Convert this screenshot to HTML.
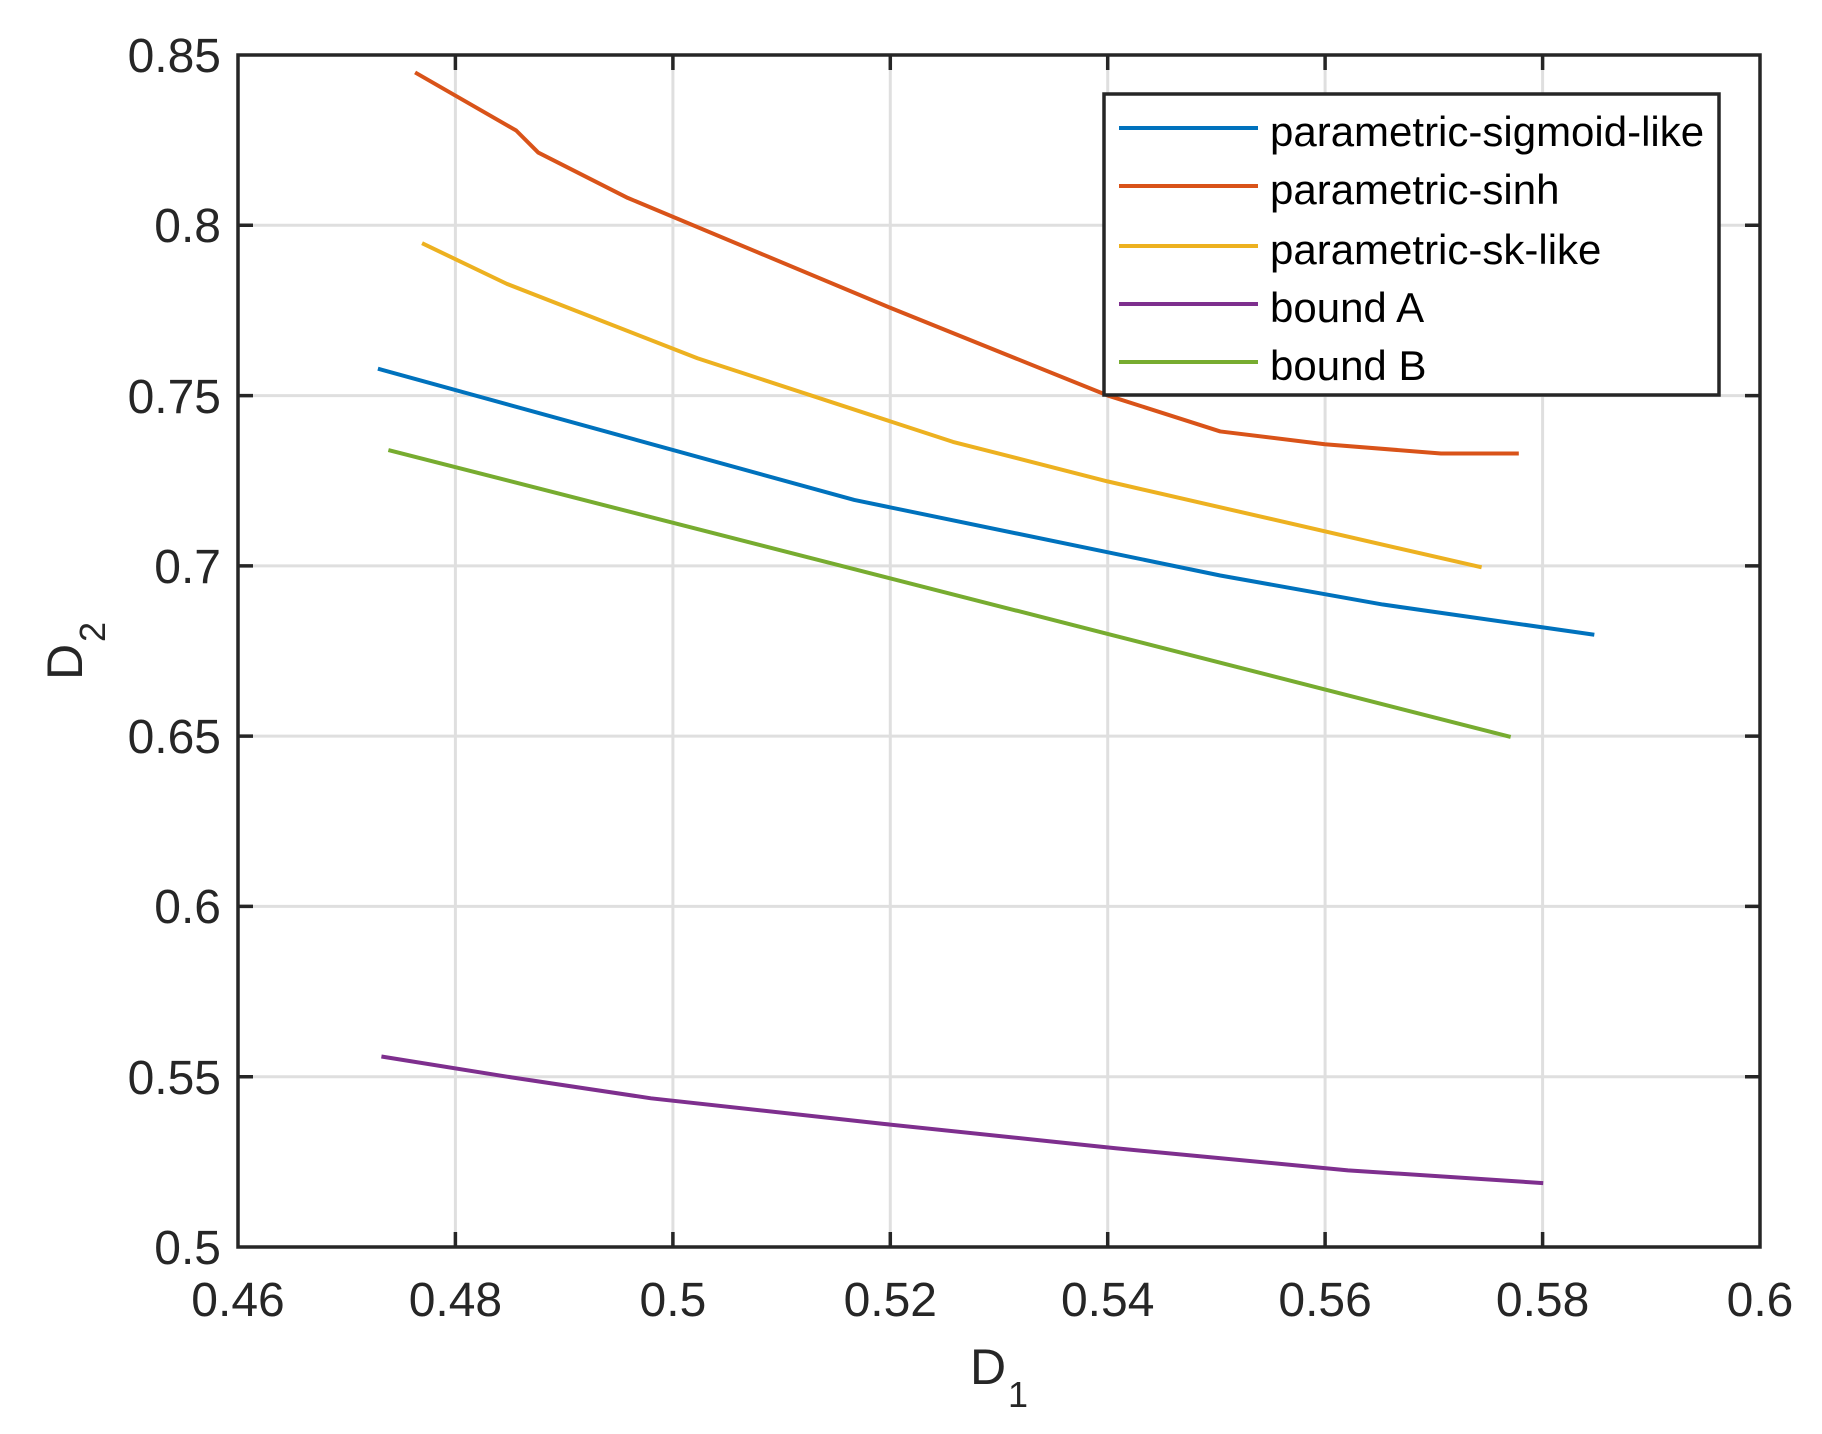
<!DOCTYPE html>
<html><head><meta charset="utf-8"><style>html,body{margin:0;padding:0;background:#fff}svg{display:block}</style></head><body>
<svg width="1822" height="1434" viewBox="0 0 1822 1434" xmlns="http://www.w3.org/2000/svg" font-family="Liberation Sans, Arial, sans-serif">
<rect width="1822" height="1434" fill="#fff"/>
<g stroke="#dfdfdf" stroke-width="3">
<line x1="455.4" y1="55" x2="455.4" y2="1247"/><line x1="672.9" y1="55" x2="672.9" y2="1247"/><line x1="890.3" y1="55" x2="890.3" y2="1247"/><line x1="1107.7" y1="55" x2="1107.7" y2="1247"/><line x1="1325.1" y1="55" x2="1325.1" y2="1247"/><line x1="1542.6" y1="55" x2="1542.6" y2="1247"/>
<line x1="238" y1="225.3" x2="1760" y2="225.3"/><line x1="238" y1="395.6" x2="1760" y2="395.6"/><line x1="238" y1="565.9" x2="1760" y2="565.9"/><line x1="238" y1="736.1" x2="1760" y2="736.1"/><line x1="238" y1="906.4" x2="1760" y2="906.4"/><line x1="238" y1="1076.7" x2="1760" y2="1076.7"/>
</g>
<g fill="none" stroke-width="4" stroke-linejoin="round" transform="translate(0.33,0.4) scale(1.1618,1.1618)">
<polyline vector-effect="non-scaling-stroke" stroke="#0072bd" points="325,317 735,430 1050,495 1190,520 1372,546"/>
<polyline vector-effect="non-scaling-stroke" stroke="#d95319" points="357,62 444,112 463,131 540,170 767,265 953,340 1050,371 1140,382 1240,390 1307,390"/>
<polyline vector-effect="non-scaling-stroke" stroke="#edb120" points="363,209 436,244 600,308 820,380 953,414 1275,488"/>
<polyline vector-effect="non-scaling-stroke" stroke="#7e2f8e" points="328,909 440,927 560,945 760,967 960,988 1160,1007 1328,1018"/>
<polyline vector-effect="non-scaling-stroke" stroke="#77ac30" points="334,387 1300,634"/>
</g>
<g stroke="#262626" stroke-width="3.5" fill="none">
<rect x="238" y="55" width="1522" height="1192"/>
<path d="M455.4 55v15M672.9 55v15M890.3 55v15M1107.7 55v15M1325.1 55v15M1542.6 55v15M455.4 1247v-15M672.9 1247v-15M890.3 1247v-15M1107.7 1247v-15M1325.1 1247v-15M1542.6 1247v-15"/>
<path d="M238 225.3h15M238 395.6h15M238 565.9h15M238 736.1h15M238 906.4h15M238 1076.7h15M1760 225.3h-15M1760 395.6h-15M1760 565.9h-15M1760 736.1h-15M1760 906.4h-15M1760 1076.7h-15"/>
</g>
<g fill="#262626" font-size="48" text-anchor="end">
<text x="221" y="72">0.85</text><text x="221" y="242">0.8</text><text x="221" y="413">0.75</text><text x="221" y="583">0.7</text><text x="221" y="753">0.65</text><text x="221" y="923">0.6</text><text x="221" y="1094">0.55</text><text x="221" y="1264">0.5</text>
</g>
<g fill="#262626" font-size="48" text-anchor="middle">
<text x="238" y="1316">0.46</text><text x="455.4" y="1316">0.48</text><text x="672.9" y="1316">0.5</text><text x="890.3" y="1316">0.52</text><text x="1107.7" y="1316">0.54</text><text x="1325.1" y="1316">0.56</text><text x="1542.6" y="1316">0.58</text><text x="1760" y="1316">0.6</text>
</g>
<text x="970" y="1384" font-size="50" fill="#262626">D</text><text x="1008" y="1407" font-size="36" fill="#262626">1</text>
<g transform="translate(82,680) rotate(-90)" fill="#262626"><text x="0" y="0" font-size="50">D</text><text x="38" y="23" font-size="36">2</text></g>
<rect x="1104" y="94" width="615" height="301" fill="#fff" stroke="#262626" stroke-width="3.5"/>
<g stroke-width="4">
<line x1="1119" y1="128" x2="1258" y2="128" stroke="#0072bd"/>
<line x1="1119" y1="186" x2="1258" y2="186" stroke="#d95319"/>
<line x1="1119" y1="246" x2="1258" y2="246" stroke="#edb120"/>
<line x1="1119" y1="304" x2="1258" y2="304" stroke="#7e2f8e"/>
<line x1="1119" y1="362" x2="1258" y2="362" stroke="#77ac30"/>
</g>
<g font-size="42" fill="#000">
<text x="1270" y="146">parametric-sigmoid-like</text>
<text x="1270" y="204">parametric-sinh</text>
<text x="1270" y="264">parametric-sk-like</text>
<text x="1270" y="322">bound A</text>
<text x="1270" y="380">bound B</text>
</g>
</svg>
</body></html>
